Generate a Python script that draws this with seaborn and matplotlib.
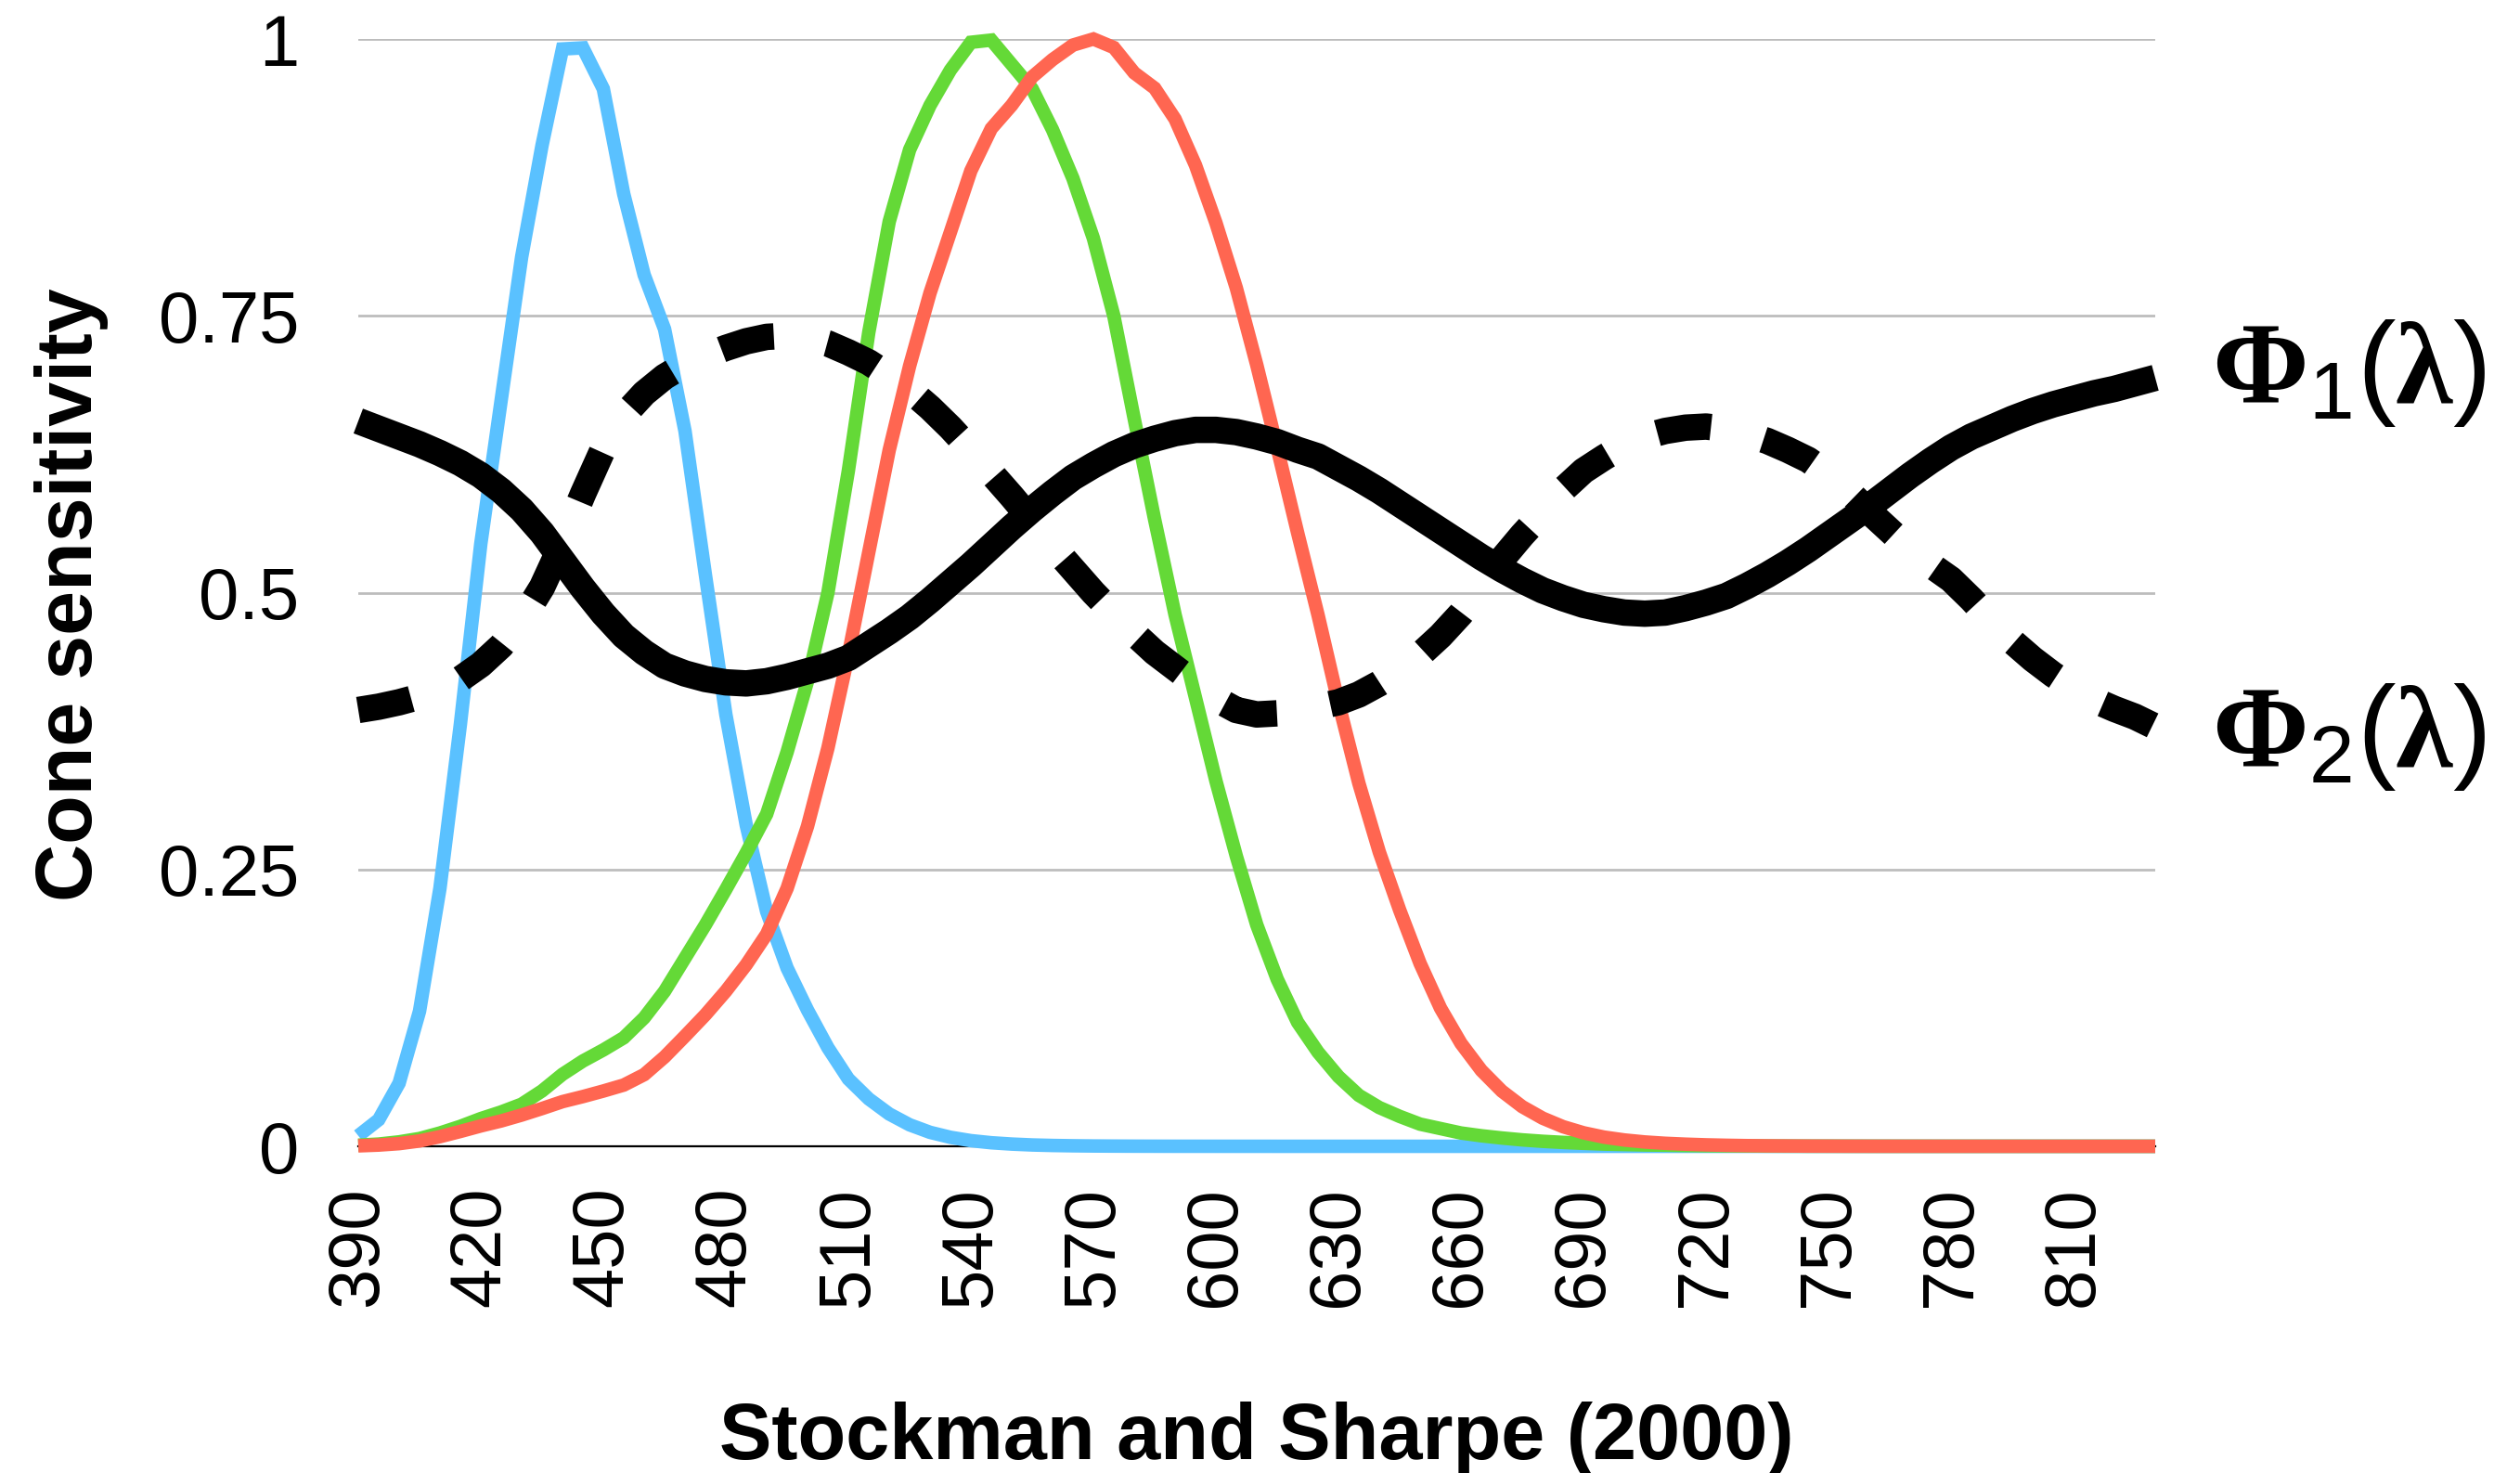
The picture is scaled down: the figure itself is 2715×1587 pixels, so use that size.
import numpy as np
import pandas as pd
import matplotlib
matplotlib.use("Agg")
import matplotlib.pyplot as plt
import seaborn as sns

# ---------------- data ----------------
WAVELENGTH = list(range(390, 835, 5))  # 390 .. 830 nm

S_CONE = [0.0095, 0.024, 0.057, 0.122, 0.233, 0.381, 0.544, 0.674, 0.803, 0.904,
          0.991, 0.992, 0.955, 0.860, 0.787, 0.738, 0.646, 0.516, 0.390, 0.290,
          0.212, 0.161, 0.123, 0.089, 0.0608, 0.0428, 0.0292, 0.0194, 0.0126, 0.0081,
          0.0051, 0.0032, 0.0020, 0.0012, 0.00074, 0.00046, 0.00028, 0.00018, 0.00011, 0.00007,
          0.00004, 0.00003, 0.00002, 0.00001, 0.00001, 0.0, 0.0, 0.0, 0.0, 0.0,
          0.0, 0.0, 0.0, 0.0, 0.0, 0.0, 0.0, 0.0, 0.0, 0.0,
          0.0, 0.0, 0.0, 0.0, 0.0, 0.0, 0.0, 0.0, 0.0, 0.0,
          0.0, 0.0, 0.0, 0.0, 0.0, 0.0, 0.0, 0.0, 0.0, 0.0,
          0.0, 0.0, 0.0, 0.0, 0.0, 0.0, 0.0, 0.0, 0.0]

M_CONE = [0.001, 0.002, 0.004, 0.007, 0.012, 0.018, 0.025, 0.031, 0.038, 0.050,
          0.065, 0.077, 0.087, 0.098, 0.116, 0.140, 0.170, 0.200, 0.232, 0.265,
          0.300, 0.356, 0.420, 0.500, 0.610, 0.735, 0.835, 0.900, 0.940, 0.972,
          0.997, 0.999, 0.977, 0.955, 0.918, 0.874, 0.820, 0.750, 0.657, 0.566,
          0.480, 0.405, 0.330, 0.262, 0.200, 0.151, 0.112, 0.085, 0.063, 0.046,
          0.035, 0.027, 0.020, 0.016, 0.012, 0.0095, 0.0075, 0.0058, 0.0045, 0.0035,
          0.0027, 0.0020, 0.0016, 0.0012, 0.0010, 0.0007, 0.0005, 0.0004, 0.0003, 0.0002,
          0.00015, 0.0001, 0.0001, 0.00007, 0.00005, 0.00004, 0.00003, 0.00002, 0.00002, 0.00001,
          0.00001, 0.00001, 0.0, 0.0, 0.0, 0.0, 0.0, 0.0, 0.0]

L_CONE = [0.0004, 0.0011, 0.0024, 0.0048, 0.0087, 0.0134, 0.0184, 0.0229, 0.0282, 0.0341,
          0.0403, 0.0449, 0.0499, 0.0553, 0.0647, 0.0807, 0.0995, 0.1188, 0.1401, 0.1640,
          0.1916, 0.2329, 0.2890, 0.3597, 0.4437, 0.5365, 0.6286, 0.7047, 0.7706, 0.8257,
          0.8810, 0.9191, 0.9402, 0.9657, 0.9814, 0.9945, 1.0000, 0.9923, 0.9694, 0.9556,
          0.9277, 0.8860, 0.8340, 0.7751, 0.7057, 0.6308, 0.5542, 0.4799, 0.4007, 0.3279,
          0.2658, 0.2133, 0.1651, 0.1247, 0.0930, 0.0685, 0.0499, 0.0358, 0.0254, 0.0177,
          0.0122, 0.0083, 0.0057, 0.0039, 0.0027, 0.0019, 0.0013, 0.0009, 0.0006, 0.0004,
          0.0003, 0.0002, 0.00015, 0.0001, 0.00007, 0.00005, 0.00004, 0.00003, 0.00002, 0.00002,
          0.00001, 0.00001, 0.00001, 0.00001, 0.0, 0.0, 0.0, 0.0, 0.0]

PHI_1 = [0.655, 0.648, 0.641, 0.634, 0.626, 0.617, 0.606, 0.592, 0.575, 0.554,
         0.529, 0.504, 0.481, 0.461, 0.446, 0.434, 0.427, 0.422, 0.419, 0.418,
         0.420, 0.424, 0.429, 0.434, 0.441, 0.453, 0.465, 0.478, 0.493, 0.509,
         0.525, 0.542, 0.559, 0.575, 0.590, 0.604, 0.615, 0.625, 0.633, 0.639,
         0.644, 0.647, 0.647, 0.645, 0.641, 0.636, 0.629, 0.623, 0.613, 0.603,
         0.592, 0.580, 0.568, 0.556, 0.544, 0.532, 0.521, 0.511, 0.502, 0.495,
         0.489, 0.485, 0.482, 0.481, 0.482, 0.486, 0.491, 0.497, 0.506, 0.516,
         0.527, 0.539, 0.552, 0.565, 0.578, 0.592, 0.606, 0.619, 0.631, 0.641,
         0.649, 0.657, 0.664, 0.670, 0.675, 0.680, 0.684, 0.689, 0.694]

PHI_2 = [0.394, 0.397, 0.401, 0.406, 0.413, 0.422, 0.435, 0.452, 0.475, 0.505,
         0.545, 0.589, 0.630, 0.660, 0.680, 0.695, 0.706, 0.714, 0.721, 0.727,
         0.731, 0.732, 0.730, 0.725, 0.717, 0.708, 0.696, 0.683, 0.667, 0.649,
         0.629, 0.608, 0.587, 0.565, 0.542, 0.521, 0.500, 0.481, 0.463, 0.446,
         0.432, 0.418, 0.404, 0.394, 0.390, 0.391, 0.393, 0.397, 0.401, 0.408,
         0.418, 0.430, 0.444, 0.461, 0.481, 0.505, 0.530, 0.552, 0.572, 0.593,
         0.610, 0.622, 0.633, 0.641, 0.646, 0.649, 0.650, 0.648, 0.643, 0.637,
         0.629, 0.620, 0.607, 0.591, 0.573, 0.556, 0.539, 0.525, 0.512, 0.494,
         0.474, 0.456, 0.440, 0.426, 0.414, 0.403, 0.395, 0.388, 0.379]

X_TICKS = list(range(390, 811, 30))
Y_TICKS = [0, 0.25, 0.5, 0.75, 1]
Y_TICK_LABELS = ["0", "0.25", "0.5", "0.75", "1"]
X_LABEL = "Stockman and Sharpe (2000)"
Y_LABEL = "Cone sensitivity"
PHI_LABELS = [r"$\mathbf{\Phi}_{\mathrm{1}}\mathrm{(}\mathbf{\lambda}\mathrm{)}$",
              r"$\mathbf{\Phi}_{\mathrm{2}}\mathrm{(}\mathbf{\lambda}\mathrm{)}$"]

# ---------------- style ----------------
sns.set_theme(style="white")
plt.rcParams["font.family"] = ["Liberation Sans", "DejaVu Sans"]
plt.rcParams["text.color"] = "black"
plt.rcParams["xtick.color"] = "black"
plt.rcParams["ytick.color"] = "black"
plt.rcParams["axes.labelcolor"] = "black"
plt.rcParams["mathtext.fontset"] = "custom"
plt.rcParams["mathtext.rm"] = "Liberation Sans"
plt.rcParams["mathtext.bf"] = "Liberation Serif:bold"
plt.rcParams["mathtext.it"] = "Liberation Serif:italic"

BLUE = "#5AC1FF"
GREEN = "#64D937"
RED = "#FF6651"

fig = plt.figure(figsize=(27.15, 15.87), dpi=100)
ax = fig.add_axes([0.14217, 0.22180, 0.71308, 0.75173])

wl = np.array(WAVELENGTH)
df_s = pd.DataFrame({"nm": wl, "v": S_CONE})
df_m = pd.DataFrame({"nm": wl, "v": M_CONE})
df_l = pd.DataFrame({"nm": wl, "v": L_CONE})
df_p1 = pd.DataFrame({"nm": wl, "v": PHI_1})
df_p2 = pd.DataFrame({"nm": wl, "v": PHI_2})

cone_lw = 10.5
for d, c in [(df_s, BLUE), (df_m, GREEN), (df_l, RED)]:
    sns.lineplot(data=d, x="nm", y="v", color=c, lw=cone_lw, ax=ax,
                 clip_on=False, zorder=3)
    ax.lines[-1].set_solid_joinstyle("miter")
    ax.lines[-1].set_solid_capstyle("butt")

black_lw = 20.5
sns.lineplot(data=df_p1, x="nm", y="v", color="black", lw=black_lw, ax=ax,
             clip_on=False, zorder=4)
ax.lines[-1].set_solid_capstyle("butt")
sns.lineplot(data=df_p2, x="nm", y="v", color="black", lw=black_lw, ax=ax,
             clip_on=False, zorder=4)
ax.lines[-1].set_dashes([2.05, 2.05])
ax.lines[-1].set_dash_capstyle("butt")

ax.set_xlim(390, 830)
ax.set_ylim(0, 1)
ax.set_xticks(X_TICKS)
ax.set_xticklabels([str(t) for t in X_TICKS], rotation=90, fontsize=56,
                   va="top", ha="center", color="black")
ax.set_yticks(Y_TICKS)
ax.set_yticklabels(Y_TICK_LABELS, fontsize=56, color="black")
ax.tick_params(axis="x", length=0, pad=31)
ax.tick_params(axis="y", length=0, pad=46)

ax.set_xlabel("")
ax.set_ylabel("")
for y in Y_TICKS[1:]:
    ax.axhline(y, color="#BDBDBD", lw=2.0, zorder=1)
for s in ["top", "right", "left"]:
    ax.spines[s].set_visible(False)
ax.spines["bottom"].set_color("black")
ax.spines["bottom"].set_linewidth(1.6)
ax.spines["bottom"].set_zorder(2)

fig.text(0.4987, 0.0095, X_LABEL, fontsize=61, fontweight="bold",
         ha="center", va="baseline", color="black")
fig.text(0.0284, 0.596, Y_LABEL, fontsize=62, fontweight="bold",
         ha="center", va="center", rotation=90, color="black")

fig.text(0.8777, 0.7265, PHI_LABELS[0], fontsize=90, ha="left", va="baseline",
         color="black")
fig.text(0.8777, 0.4795, PHI_LABELS[1], fontsize=90, ha="left", va="baseline",
         color="black")

fig.savefig("out.png", dpi=100, facecolor="white")
